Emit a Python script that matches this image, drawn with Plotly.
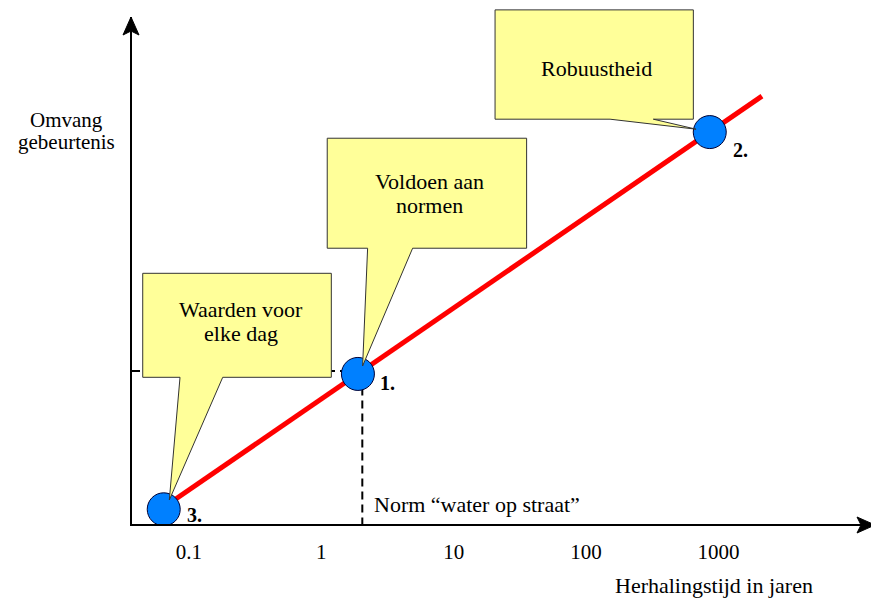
import math
import plotly.graph_objects as go

# ---- data ----
x_ticks = [0.1, 1, 10, 100, 1000]
x_tick_labels = ["0.1", "1", "10", "100", "1000"]

line_x = [0.0645, 2130]          # return period (years)
line_y = [3.3, 84.4]             # event magnitude (arbitrary units)

point_x = [1.89, 859, 0.0645]
point_y = [29.6, 77.3, 2.9]
point_labels = ["1.", "2.", "3."]

norm_x = 2.04                    # Norm "water op straat"
norm_y = 30.2

callout_texts = [["Voldoen aan", "normen"], ["Robuustheid"], ["Waarden voor", "elke dag"]]

x_range = [-1.430, 4.152]
y_range = [0, 100]

FONT = "Liberation Serif"
YELLOW = "#FFFF99"
BLUE = "rgb(0,128,255)"


def y_to_paper(v):
    return (v - y_range[0]) / (y_range[1] - y_range[0])


fig = go.Figure()

# dashed reference lines (norm)
fig.add_trace(go.Scatter(
    x=[10 ** x_range[0], norm_x, norm_x], y=[norm_y, norm_y, y_range[0]],
    mode="lines", line=dict(color="black", width=2, dash="8px,5px"),
    hoverinfo="skip", showlegend=False))

# red relation line
fig.add_trace(go.Scatter(
    x=line_x, y=line_y, mode="lines",
    line=dict(color="#FF0000", width=5), showlegend=False))

# blue points
fig.add_trace(go.Scatter(
    x=point_x, y=point_y, mode="markers",
    marker=dict(size=33, color=BLUE, line=dict(color="#000033", width=1)),
    showlegend=False))

# ---- callouts (pixel offsets relative to each point) ----
callout_style = [
    dict(box=(-30.7, 168.7, 125.7, 235.7), base=(9.7, 54.7), tip=(4.7, 8.0),
         tx=72, ty=[192.0, 168.0]),
    dict(box=(-214.7, -16.4, 12.9, 122.2), base=(-99.7, -56.4), tip=(-13.7, 2.9),
         tx=-113, ty=[63.9]),
    dict(box=(-21.0, 167.6, 132.0, 236.0), base=(16.3, 59.0), tip=(5.6, 9.3),
         tx=77.3, ty=[199.5, 175.5]),
]

shapes = []
annotations = []
for px, py, lines, st in zip(point_x, point_y, callout_texts, callout_style):
    l, r, b, t = st["box"]
    a, bb = st["base"]
    tx, ty = st["tip"]
    path = (f"M {l},{b} L {a},{b} L {tx},{ty} L {bb},{b} L {r},{b} "
            f"L {r},{t} L {l},{t} Z")
    shapes.append(dict(type="path", xref="x", yref="paper",
                       xsizemode="pixel", ysizemode="pixel",
                       xanchor=px, yanchor=y_to_paper(py), path=path,
                       fillcolor=YELLOW, line=dict(color="#333333", width=1),
                       layer="above"))
    for txt, dy in zip(lines, st["ty"]):
        annotations.append(dict(x=math.log10(px), y=py, xref="x", yref="y",
                                text=txt, showarrow=False,
                                xanchor="center", yanchor="middle",
                                xshift=st["tx"], yshift=dy,
                                font=dict(family=FONT, size=22, color="black")))

# point number labels
label_shift = [(20.5, -9), (21, -17.8), (21.3, -5.7)]
for px, py, lab, (dx, dy) in zip(point_x, point_y, point_labels, label_shift):
    annotations.append(dict(x=math.log10(px), y=py, xref="x", yref="y",
                            text=f"<b>{lab}</b>", showarrow=False,
                            xanchor="left", yanchor="middle",
                            xshift=dx, yshift=dy,
                            font=dict(family=FONT, size=20, color="black")))

# norm label
annotations.append(dict(x=math.log10(norm_x), y=0, xref="x", yref="y",
                        text="Norm \u201cwater op straat\u201d", showarrow=False,
                        xanchor="left", yanchor="middle", xshift=10, yshift=20,
                        font=dict(family=FONT, size=22, color="black")))

# axis titles
annotations.append(dict(x=0.651, y=0, xref="paper", yref="paper",
                        text="Herhalingstijd in jaren", showarrow=False,
                        xanchor="left", yanchor="middle", yshift=-61,
                        font=dict(family=FONT, size=22, color="black")))
for txt, dy in zip(["Omvang", "gebeurtenis"], [-103, -125]):
    annotations.append(dict(x=0, y=1, xref="paper", yref="paper",
                            text=txt, showarrow=False,
                            xanchor="center", yanchor="middle",
                            xshift=-66, yshift=dy,
                            font=dict(family=FONT, size=21, color="black")))

# axis arrowheads
shapes.append(dict(type="path", xref="paper", yref="paper",
                   xsizemode="pixel", ysizemode="pixel", xanchor=0, yanchor=1,
                   path="M -1,0 L -9,-18 L -1,-14 L 7,-18 Z",
                   fillcolor="black", line=dict(color="black", width=1),
                   layer="above"))
shapes.append(dict(type="path", xref="paper", yref="paper",
                   xsizemode="pixel", ysizemode="pixel", xanchor=1, yanchor=0,
                   path="M 4,-1 L -14,7 L -10,-1 L -14,-9 Z",
                   fillcolor="black", line=dict(color="black", width=1),
                   layer="above"))

fig.update_layout(
    width=871, height=599,
    margin=dict(l=132, r=0, t=17, b=75),
    paper_bgcolor="white", plot_bgcolor="white",
    showlegend=False,
    shapes=shapes, annotations=annotations,
    xaxis=dict(type="log", range=x_range, showgrid=False, zeroline=False,
               showline=True, linecolor="black", linewidth=2,
               tickvals=x_ticks, ticktext=x_tick_labels,
               ticks="outside", ticklen=8, tickcolor="rgba(0,0,0,0)",
               tickfont=dict(family=FONT, size=21, color="black")),
    yaxis=dict(range=y_range, showgrid=False, zeroline=False,
               showline=True, linecolor="black", linewidth=2,
               showticklabels=False, ticks=""),
)

fig.write_html(
    "out.html",
    config={"displayModeBar": False},
    post_script="document.body.style.margin='0';document.body.style.padding='0';"
                "document.body.style.overflow='hidden';"
                "document.documentElement.style.overflow='hidden';",
)
